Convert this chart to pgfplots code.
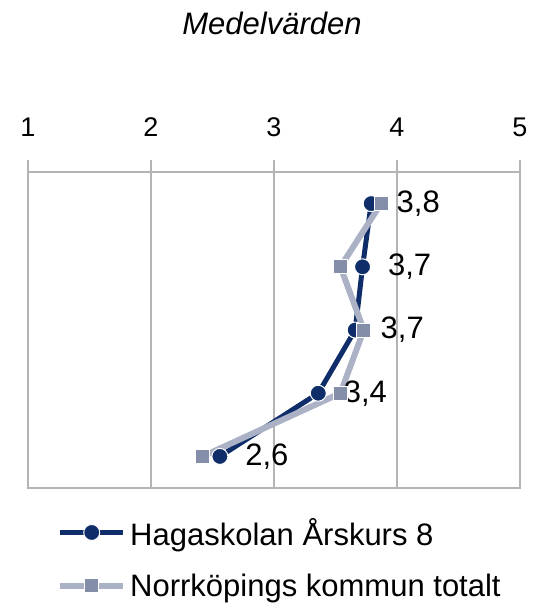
\documentclass[border=0pt]{standalone}
\usepackage{fontspec}
\setmainfont{Liberation Sans}
\usepackage{pgfplots}
\pgfplotsset{compat=1.18}
\definecolor{haga}{RGB}{14,45,105}
\definecolor{norrline}{RGB}{172,178,198}
\definecolor{norrmark}{RGB}{132,142,168}
\definecolor{gridc}{RGB}{180,180,180}
\begin{document}
\begin{tikzpicture}[font=\fontsize{31}{37}\selectfont]
\begin{axis}[
  scale only axis, width=492pt, height=316pt,
  xmin=1, xmax=5, ymin=0.5, ymax=5.5, y dir=reverse,
  xtick={1,2,3,4,5}, ytick=\empty,
  xticklabel pos=upper, xtick pos=upper,
  tick align=outside, major tick length=12pt,
  xmajorgrids, grid style={gridc, line width=1.2pt},
  axis line style={gridc, line width=1.2pt},
  tick style={gridc, line width=1.2pt},
  /pgf/number format/assume math mode=true,
  xticklabel style={font=\fontsize{27}{32}\selectfont, inner sep=0pt, yshift=23pt},
  clip=false,
  legend style={at={(0.059,0)}, anchor=north west, yshift=-30pt, draw=none, fill=none,
    inner sep=0pt, row sep=27pt, nodes={inner sep=0pt, anchor=west},
    font=\fontsize{31}{37}\selectfont},
  legend cell align=left,
  legend image code/.code={\draw[mark repeat=2,mark phase=2,#1] plot coordinates {(0pt,0pt) (31.5pt,0pt) (63pt,0pt)}; \path (67pt,0pt);},
  nodes near coords={\pgfmathprintnumber[use comma, fixed, fixed zerofill, precision=1]{\pgfplotspointmeta}},
]
\addplot[haga, line width=5pt, line join=round, mark=*, mark size=8pt,
  mark options={fill=haga, draw=white, line width=1pt},
  point meta=x,
  every node near coord/.append style={anchor=west, xshift=22pt, inner sep=3pt, text=black, font=\fontsize{31}{37}\selectfont}]
  coordinates {(3.79,1) (3.72,2) (3.66,3) (3.36,4) (2.56,5)};
\addlegendentry{Hagaskolan Årskurs 8}
\addplot[norrline, line width=6pt, line join=round, mark=square*, mark size=7pt,
  mark options={fill=norrmark, draw=white, line width=1pt}, nodes near coords={}]
  coordinates {(3.87,1) (3.54,2) (3.73,3) (3.54,4) (2.42,5)};
\addlegendentry{Norrköpings kommun totalt}
\end{axis}
\node[anchor=base, font=\fontsize{31}{37}\selectfont\itshape] at (244pt,453pt) {Medelvärden};
\pgfresetboundingbox
\path (-28pt,-121pt) rectangle (507pt,488pt);
\end{tikzpicture}
\end{document}
